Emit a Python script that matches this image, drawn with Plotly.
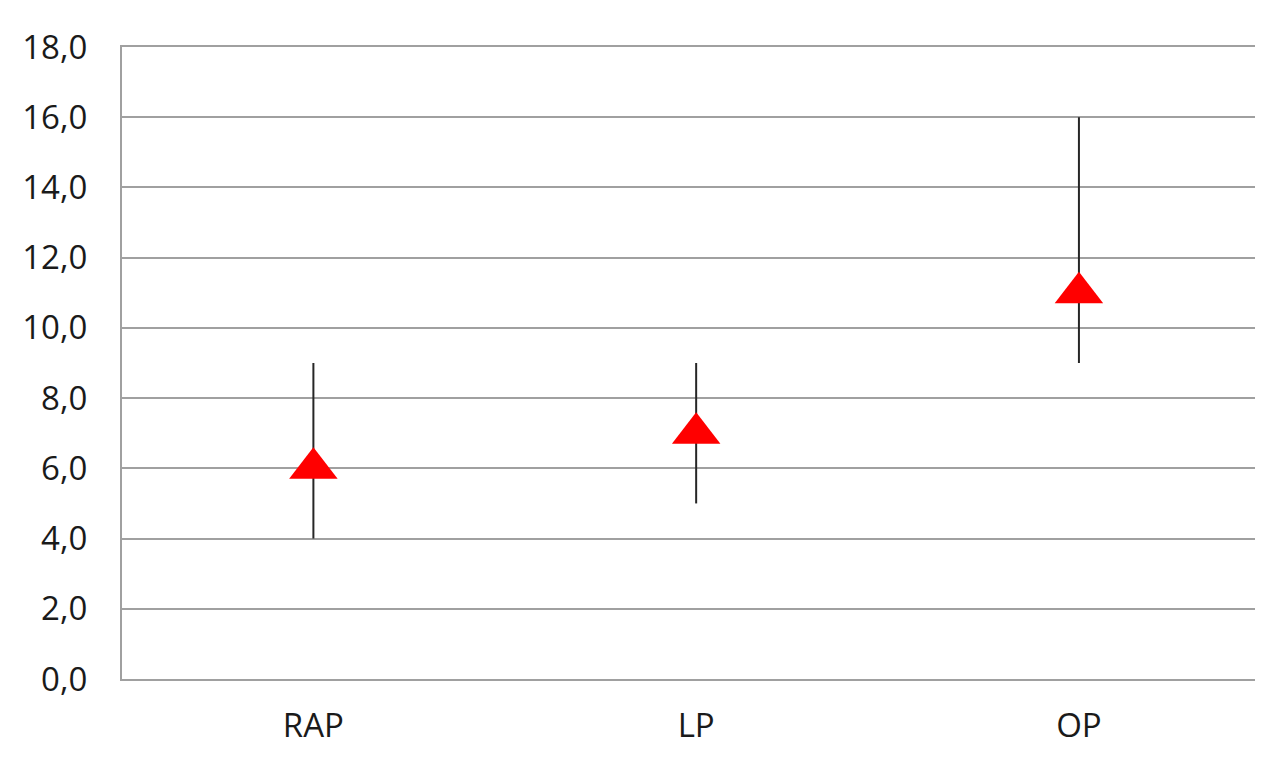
import plotly.graph_objects as go

categories = ["RAP", "LP", "OP"]
means = [6.0, 7.0, 11.0]
lows = [4.0, 5.0, 9.0]
highs = [9.0, 9.0, 16.0]
y_ticks = [0, 2, 4, 6, 8, 10, 12, 14, 16, 18]
y_tick_labels = ["0,0", "2,0", "4,0", "6,0", "8,0", "10,0", "12,0", "14,0", "16,0", "18,0"]

err_plus = [h - m for h, m in zip(highs, means)]
err_minus = [m - l for m, l in zip(means, lows)]

FONT = "Open Sans, sans-serif"

fig = go.Figure()
fig.add_trace(go.Scatter(
    x=categories, y=means, mode="markers",
    marker=dict(symbol="triangle-up", color="#ff0000", size=42, line=dict(width=0)),
    error_y=dict(type="data", symmetric=False, array=err_plus, arrayminus=err_minus,
                 color="#262626", thickness=2, width=0),
    showlegend=False,
))

fig.update_layout(
    width=1247, height=747,
    margin=dict(l=114, r=0, t=39, b=76),
    paper_bgcolor="white", plot_bgcolor="white",
    font=dict(family=FONT, size=33, color="#1a1a1a"),
    xaxis=dict(
        type="category", range=[-0.5, 2.46], automargin=False,
        showgrid=False, showline=True, linecolor="#a0a0a0", linewidth=2, mirror=True,
        ticks="", ticklabelstandoff=16,
        tickfont=dict(family=FONT, size=33, color="#1a1a1a"),
    ),
    yaxis=dict(
        range=[0, 18], tickvals=y_ticks, ticktext=y_tick_labels, automargin=False,
        showgrid=True, gridcolor="#a0a0a0", gridwidth=2,
        showline=True, linecolor="#a0a0a0", linewidth=2,
        zeroline=False, ticks="", ticklabelstandoff=26,
        tickfont=dict(family=FONT, size=33, color="#1a1a1a"),
    ),
)

fig.write_html("out.html")
